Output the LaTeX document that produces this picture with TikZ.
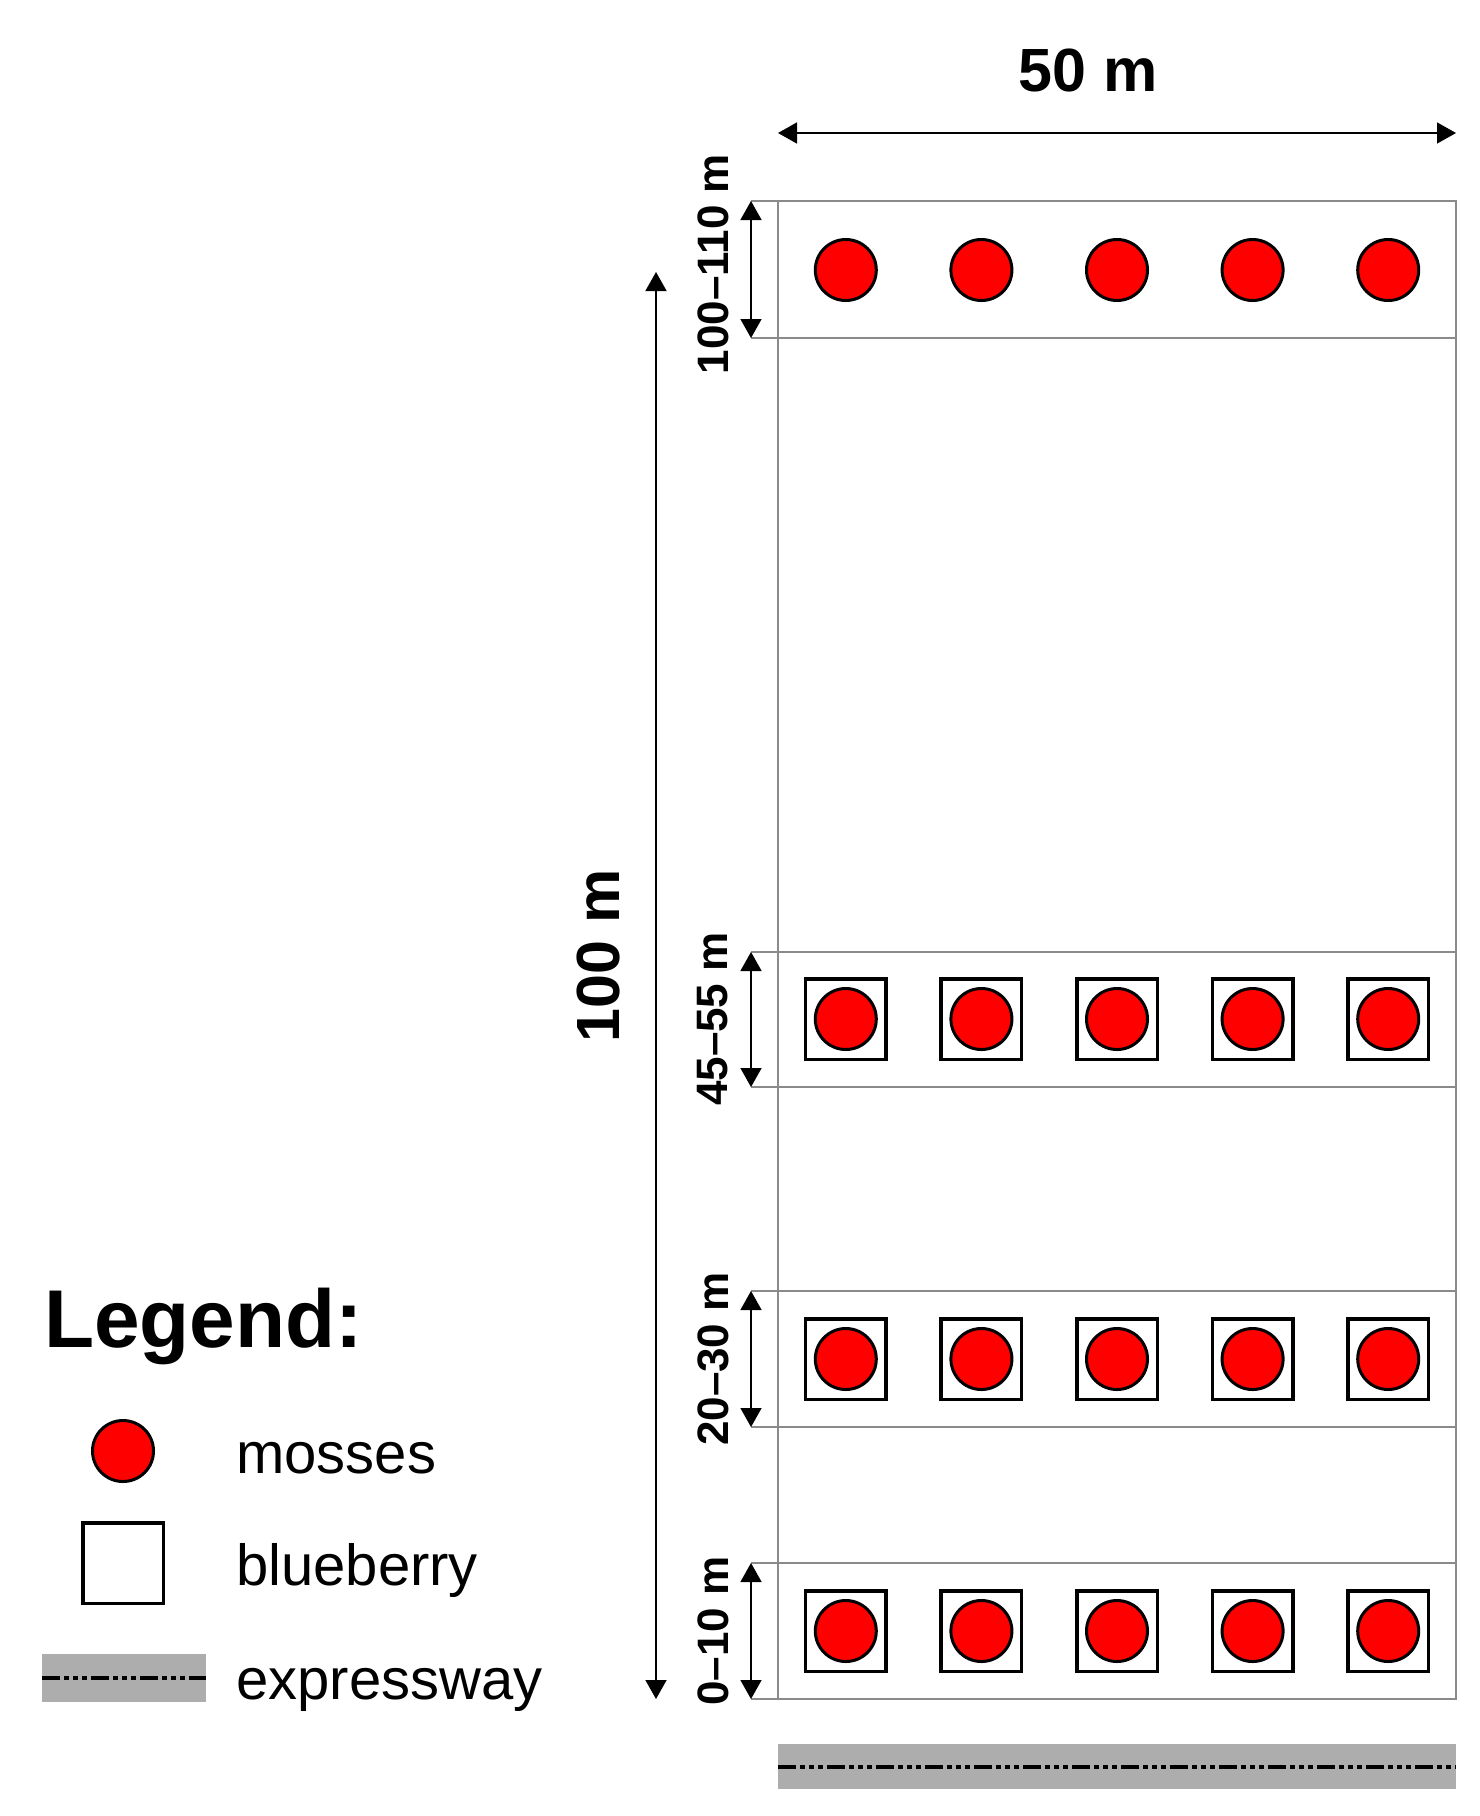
\documentclass[tikz,border=0pt]{standalone}
\usepackage{fontspec}
\setmainfont{Liberation Sans}
\usetikzlibrary{arrows.meta}
\definecolor{gridgray}{HTML}{8A8A8A}
\definecolor{roadgray}{HTML}{ADADAD}
\definecolor{mossred}{HTML}{FF0000}
\tikzset{
  bandline/.style={draw=gridgray,line width=1.5pt},
  dimarrow/.style={line width=1.5pt,draw=black,fill=black,{Triangle[length=19pt,width=21pt]}-{Triangle[length=19pt,width=21pt]}},
  moss/.style={circle,draw=black,line width=3pt,fill=mossred,minimum size=61pt,inner sep=0pt},
  berry/.style={rectangle,draw=black,line width=3.5pt,fill=white,minimum size=80.5pt,inner sep=0pt},
  roadfill/.style={fill=roadgray,draw=none},
  roadline/.style={line width=3.5pt,draw=black,dash pattern=on 18pt off 4pt on 5pt off 4pt on 5pt off 4pt on 5pt off 4pt},
  biglab/.style={font=\fontsize{61}{70}\selectfont\bfseries,inner sep=0pt},
  smalllab/.style={font=\fontsize{44}{50}\selectfont\bfseries,inner sep=0pt,rotate=90},
  legtitle/.style={font=\fontsize{82}{90}\selectfont\bfseries,inner sep=0pt,anchor=base west},
  legtext/.style={font=\fontsize{58}{66}\selectfont,inner sep=0pt,anchor=base west}
}
\begin{document}
\begin{tikzpicture}[x=1pt,y=-1pt]
\useasboundingbox (0,0) rectangle (1480,1816);

% plot outline
\draw[bandline] (778,201) rectangle (1456,1699);
% band boundary lines
\foreach \yy in {201,338,952,1087,1291,1427,1563,1699}{
  \draw[bandline] (751,\yy) -- (1456,\yy);
}

% width dimension
\coordinate (w0) at (778,133);
\coordinate (w1) at (1456,133);
\draw[dimarrow] (w0) -- (w1);
\node[biglab] (lab50) at (1088,70) {50 m};

% height dimension
\coordinate (h0) at (656,1699);
\coordinate (h1) at (656,272);
\draw[dimarrow] (h0) -- (h1);
\node[biglab,rotate=90] (lab100) at (598,956) {100 m};

% band dimension arrows and labels
\coordinate (a1t) at (751,201);  \coordinate (a1b) at (751,338);
\coordinate (a2t) at (751,952);  \coordinate (a2b) at (751,1087);
\coordinate (a3t) at (751,1291); \coordinate (a3b) at (751,1427);
\coordinate (a4t) at (751,1563); \coordinate (a4b) at (751,1699);
\draw[dimarrow] (a1t) -- (a1b);
\draw[dimarrow] (a2t) -- (a2b);
\draw[dimarrow] (a3t) -- (a3b);
\draw[dimarrow] (a4t) -- (a4b);
\node[smalllab] (l1) at (713,264) {100–110 m};
\node[smalllab] (l2) at (713,1019) {45–55 m};
\node[smalllab] (l3) at (713,1359) {20–30 m};
\node[smalllab] (l4) at (713,1631) {0–10 m};

% sampling points
\foreach \i in {0,...,4}{
  \pgfmathsetmacro{\xx}{845.8+135.6*\i}
  \node[moss] (top\i) at (\xx,270) {};
  \node[berry] (sqa\i) at (\xx,1019) {};
  \node[moss] (ma\i) at (\xx,1019) {};
  \node[berry] (sqb\i) at (\xx,1359) {};
  \node[moss] (mb\i) at (\xx,1359) {};
  \node[berry] (sqc\i) at (\xx,1631) {};
  \node[moss] (mc\i) at (\xx,1631) {};
}

% expressway
\fill[roadfill] (778,1744) rectangle (1456,1789);
\coordinate (r0) at (778,1767);
\coordinate (r1) at (1456,1767);
\draw[roadline] (r0) -- (r1);

% legend
\node[legtitle] (legtitle) at (44,1347) {Legend:};
\node[moss,minimum size=61pt] (legmoss) at (123,1451) {};
\node[legtext] (tmoss) at (236,1473) {mosses};
\node[berry] (legberry) at (123,1563) {};
\node[legtext] (tberry) at (236,1585) {blueberry};
\fill[roadfill] (42,1654) rectangle (206,1702);
\coordinate (lr0) at (42,1678);
\coordinate (lr1) at (206,1678);
\draw[roadline] (lr0) -- (lr1);
\node[legtext] (troad) at (236,1699) {expressway};
\end{tikzpicture}
\end{document}
